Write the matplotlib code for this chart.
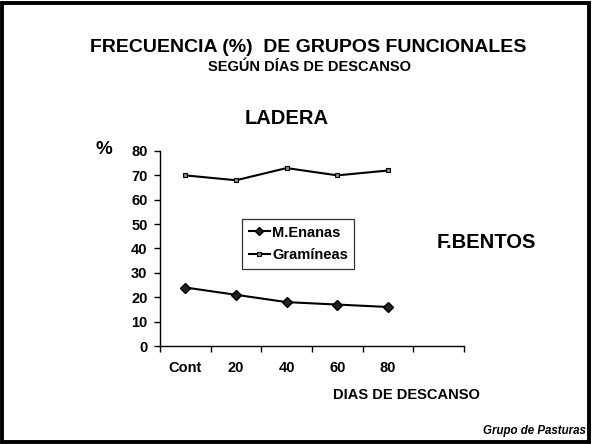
import matplotlib
matplotlib.use("Agg")
import matplotlib.pyplot as plt
from matplotlib.patches import Rectangle

plt.rcParams['font.family'] = ['Liberation Sans', 'DejaVu Sans']
plt.rcParams['font.weight'] = 'bold'

categories = ["Cont", "20", "40", "60", "80", ""]
m_enanas = [24, 21, 18, 17, 16]
gramineas = [70, 68, 73, 70, 72]
yticks = [0, 10, 20, 30, 40, 50, 60, 70, 80]

W, H = 592, 444
fig = plt.figure(figsize=(W / 100, H / 100), dpi=100)
fig.patch.set_facecolor('white')

# page border
fig.patches.append(Rectangle((2 / W, 2 / H), (W - 5) / W, (H - 5) / H,
                             transform=fig.transFigure, fill=False,
                             edgecolor='black', linewidth=2.8))

ax = fig.add_axes([160 / W, 1 - 346 / H, (464 - 160) / W, (346 - 151) / H])
xs = list(range(len(m_enanas)))
ax.plot(xs, m_enanas, color='black', lw=1.5, marker='D', ms=5.5,
        mfc='#222222', mec='black', label='M.Enanas')
ax.plot(xs, gramineas, color='black', lw=1.5, marker='s', ms=3.2,
        mfc='#888888', mec='black', mew=0.8, label='Gramíneas')

n = len(categories)
ax.set_xlim(-0.5, n - 0.5)
ax.set_ylim(0, 80)
ax.set_xticks([i - 0.5 for i in range(n + 1)])
ax.set_xticklabels([])
ax.set_xticks(list(range(n)), minor=True)
ax.set_xticklabels(categories, minor=True, fontsize=10.5, fontweight='bold')
ax.tick_params(axis='x', which='major', direction='out', length=4, width=1)
ax.tick_params(axis='x', which='minor', length=0, pad=11)
ax.set_yticks(yticks)
ax.set_yticklabels([str(v) for v in yticks], fontsize=10.5, fontweight='bold')
ax.tick_params(axis='y', direction='out', length=4, width=1, pad=5)
for s in ['top', 'right']:
    ax.spines[s].set_visible(False)
for s in ['left', 'bottom']:
    ax.spines[s].set_linewidth(1)
ax.set_facecolor('none')

leg = ax.legend(loc='upper left', bbox_to_anchor=((242 - 160) / 304, (346 - 219) / 195),
                frameon=True, fancybox=False, edgecolor='black', fontsize=10.5,
                handlelength=1.45, handletextpad=0.15, borderpad=0.45,
                labelspacing=0.6, borderaxespad=0, markerscale=0.75)
leg.get_frame().set_linewidth(0.9)
for t in leg.get_texts():
    t.set_fontweight('bold')

def ftext(x, y, s, **kw):
    fig.text(x / W, 1 - y / H, s, **kw)

ftext(308, 47, "FRECUENCIA (%)  DE GRUPOS FUNCIONALES", ha='center', va='center',
      fontsize=14, fontweight='bold')
ftext(310, 67, "SEGÚN DÍAS DE DESCANSO", ha='center', va='center',
      fontsize=10.5, fontweight='bold')
ftext(287, 118, "LADERA", ha='center', va='center', fontsize=14.5, fontweight='bold')
ftext(104, 150, "%", ha='center', va='center', fontsize=13.5, fontweight='bold')
ftext(486, 242, "F.BENTOS", ha='center', va='center', fontsize=14.5, fontweight='bold')
ftext(406, 395, "DIAS DE DESCANSO", ha='center', va='center', fontsize=10.5,
      fontweight='bold')
ftext(586, 431, "Grupo de Pasturas", ha='right', va='center', fontsize=8.3,
      fontweight='bold', fontstyle='italic')

fig.savefig("out.png", dpi=100)
